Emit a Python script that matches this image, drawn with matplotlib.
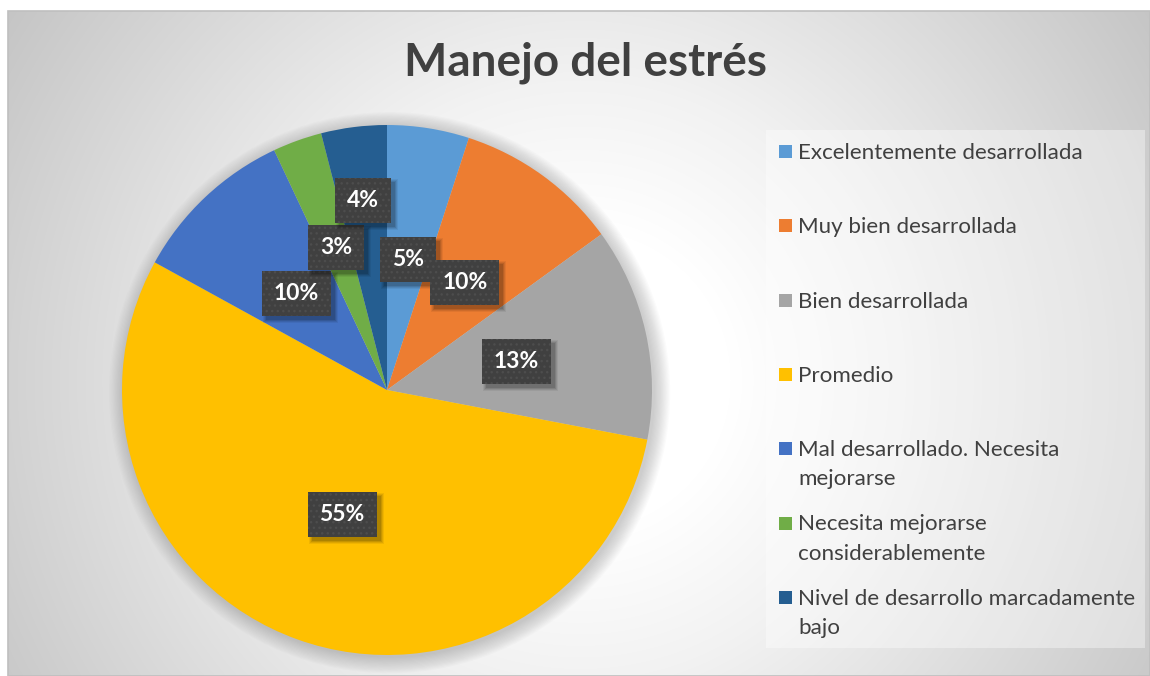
import numpy as np
import matplotlib
matplotlib.use("Agg")
import matplotlib.pyplot as plt
from matplotlib.patches import Rectangle, Circle
import matplotlib.transforms as mtransforms

plt.rcParams['font.family'] = ['Lato', 'DejaVu Sans']

# data
categorias = ['Excelentemente desarrollada', 'Muy bien desarrollada', 'Bien desarrollada',
              'Promedio', 'Mal desarrollado. Necesita\nmejorarse',
              'Necesita mejorarse\nconsiderablemente',
              'Nivel de desarrollo marcadamente\nbajo']
porcentajes = [5, 10, 13, 55, 10, 3, 4]
etiquetas = ['5%', '10%', '13%', '55%', '10%', '3%', '4%']

colores = ['#5B9BD5', '#ED7D31', '#A5A5A5', '#FFC000', '#4472C4', '#70AD47', '#255E91']
dist_etiqueta = [0.5, 0.5, 0.5, 0.5, 0.5, 0.57, 0.72]

W, H = 1150, 676
fig = plt.figure(figsize=(W / 100, H / 100), dpi=100)
fig.patch.set_facecolor('white')


def fx(x):
    return x / W


def fy(y):
    return 1 - y / H


# fondo con degradado radial
x0, y0 = 8, 11
bg = fig.add_axes([fx(x0), 0, 1 - fx(x0), fy(y0)])
xx, yy = np.meshgrid(np.arange(x0, W), np.arange(y0, H))
r = np.hypot(xx - 580, yy - 380)
g = np.interp(r, [0, 150, 300, 690, 900], [255, 255, 242, 196, 190]) / 255
bg.imshow(np.dstack([g, g, g]), aspect='auto', extent=[0, 1, 0, 1])
bg.set_xlim(0, 1)
bg.set_ylim(0, 1)
bg.axis('off')
fig.add_artist(Rectangle((fx(x0), 0), 1 - fx(x0), fy(y0), transform=fig.transFigure,
                         fill=False, edgecolor='#bfbfbf', linewidth=1.2))

# pastel
cx, cy, R = 387, 390, 265
ax = fig.add_axes([fx(cx - R), fy(cy + R), 2 * R / W, 2 * R / H])
for k in range(14):
    ax.add_patch(Circle((0.01, -0.01), 1 + k * 0.0045, facecolor='#808080',
                        alpha=0.03, linewidth=0, clip_on=False, zorder=0))
wedges, _ = ax.pie(porcentajes, colors=colores, startangle=90, counterclock=False,
                   radius=1, wedgeprops=dict(linewidth=0))
for w in wedges:
    w.set_zorder(2)
ax.set_xlim(-1, 1)
ax.set_ylim(-1, 1)
ax.axis('off')

# etiquetas con caja oscura
textos = []
for w, lab, d in zip(wedges, etiquetas, dist_etiqueta):
    ang = np.deg2rad((w.theta1 + w.theta2) / 2)
    t = ax.text(d * np.cos(ang), d * np.sin(ang), lab, ha='center', va='center',
                color='white', fontsize=16.5, fontweight='bold', zorder=5,
                bbox=dict(boxstyle='square,pad=0.52', facecolor='#404040',
                          edgecolor='#4d4d4d', linewidth=0, hatch='...'))
    textos.append(t)

# sombra difusa de las cajas
fig.canvas.draw()
for i, t in enumerate(textos):
    bb = t.get_bbox_patch().get_window_extent()
    for s, a in [(3, 0.06), (2, 0.08), (1, 0.1), (0, 0.12)]:
        ax.add_patch(Rectangle((bb.x0 + 4 - s, bb.y0 - 4 - s), bb.width + 2 * s,
                               bb.height + 2 * s, transform=mtransforms.IdentityTransform(),
                               facecolor='black', alpha=a, linewidth=0,
                               zorder=4 + i * 0.01, clip_on=False))
    t.set_zorder(4.005 + i * 0.01)

# titulo
fig.text(fx(586), fy(76), 'Manejo del estrés', ha='center', va='baseline',
         fontsize=33, fontweight='bold', color='#404040')

# leyenda
fig.add_artist(Rectangle((fx(766), fy(648)), fx(1145 - 766), (648 - 130) / H,
                         transform=fig.transFigure, facecolor='white', alpha=0.38,
                         linewidth=0))
for i, (cat, col) in enumerate(zip(categorias, colores)):
    base = 159 + 74.3 * i
    fig.add_artist(Rectangle((fx(779), fy(base - 1)), 13 / W, 13 / H,
                             transform=fig.transFigure, facecolor=col, linewidth=0))
    for j, linea in enumerate(cat.split('\n')):
        fig.text(fx(798), fy(base + 29 * j), linea, ha='left', va='baseline',
                 fontsize=16.1, color='#404040')

fig.savefig('out.png', dpi=100)
